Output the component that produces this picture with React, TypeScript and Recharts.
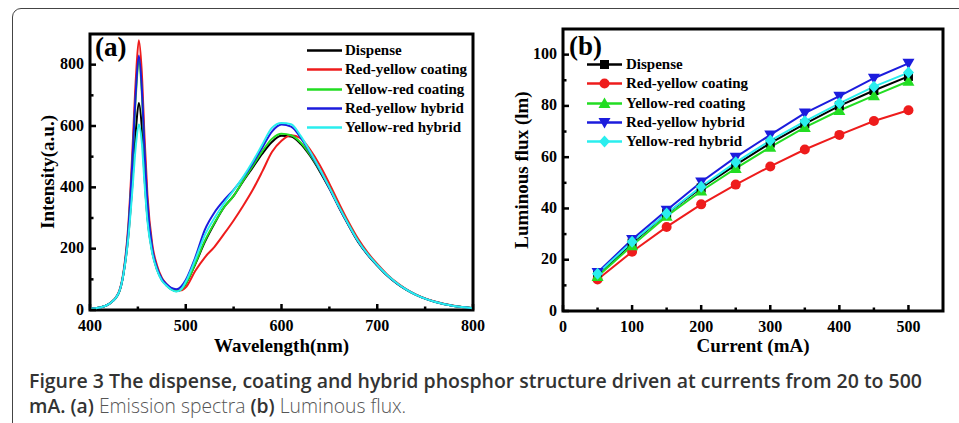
import React from 'react';
import { LineChart, Line, XAxis, YAxis, Legend, ReferenceArea } from 'recharts';

// (a) emission spectra
const wavelength = [400, 410, 420, 430, 435, 440, 444, 448, 451, 454, 457, 460, 465, 470, 475, 480, 485, 490, 495,
  500, 510, 520, 530, 540, 550, 560, 570, 580, 590, 600, 610, 620, 630, 640, 650, 660, 670, 680, 690,
  700, 710, 720, 730, 740, 750, 760, 780, 800];
const dispenseSpec = [4, 8, 20, 55, 118, 240, 400, 590, 675, 600, 430, 300, 190, 132, 98, 80, 68, 62, 66,
  85, 150, 222, 282, 335, 372, 420, 465, 510, 548, 568, 566, 542, 502, 452, 396, 334, 276, 222, 180,
  145, 113, 87, 66, 50, 37, 27, 13, 6];
const ryCoatSpec = [4, 8, 20, 58, 125, 275, 500, 760, 880, 780, 560, 375, 215, 145, 105, 84, 70, 64, 64,
  74, 128, 172, 206, 248, 292, 340, 392, 452, 515, 552, 570, 560, 522, 472, 412, 348, 287, 232, 187,
  150, 117, 90, 68, 51, 38, 28, 14, 6];
const yrCoatSpec = [4, 8, 20, 55, 120, 255, 460, 705, 815, 715, 505, 340, 198, 135, 100, 80, 67, 61, 66,
  86, 152, 226, 284, 335, 372, 422, 470, 518, 558, 575, 570, 546, 506, 456, 400, 338, 280, 225, 182,
  146, 114, 88, 67, 50, 37, 27, 13, 6];
const ryHybSpec = [4, 8, 20, 56, 120, 260, 470, 720, 830, 730, 520, 350, 202, 138, 102, 84, 72, 68, 76,
  98, 172, 262, 318, 358, 392, 432, 478, 530, 582, 605, 598, 562, 512, 457, 398, 336, 278, 224, 181,
  146, 114, 88, 67, 50, 37, 27, 13, 6];
const yrHybSpec = [4, 8, 20, 56, 118, 235, 380, 540, 605, 550, 410, 290, 185, 130, 96, 79, 66, 60, 67,
  92, 165, 245, 300, 348, 390, 434, 484, 540, 594, 610, 606, 568, 516, 460, 400, 337, 279, 225, 182,
  147, 115, 89, 67, 50, 37, 27, 13, 6];

// (b) luminous flux
const current = [50, 100, 150, 200, 250, 300, 350, 400, 450, 500];
const dispenseFlux = [14, 26.5, 38, 48, 57, 65.5, 73, 80, 86, 91.5];
const ryCoatFlux = [12.3, 23.1, 32.8, 41.6, 49.3, 56.4, 63, 68.7, 74.1, 78.3];
const yrCoatFlux = [13.5, 25.5, 37, 46.8, 55.6, 63.9, 71.6, 78.2, 84, 89.6];
const ryHybFlux = [15, 27.9, 39.3, 50.3, 60, 68.7, 77.2, 83.8, 90.8, 96.6];
const yrHybFlux = [14.5, 27, 38, 48.5, 58, 66.5, 74, 81, 87.5, 93];

const names = ['Dispense', 'Red-yellow coating', 'Yellow-red coating', 'Red-yellow hybrid', 'Yellow-red hybrid'];
const keys = ['dispense', 'ryCoat', 'yrCoat', 'ryHyb', 'yrHyb'];
const colors = ['#000000', '#ee1c1c', '#22dd22', '#1c1cdd', '#2aeeee'];
const shapes: Record<string, string> = { dispense: 'square', ryCoat: 'circle', yrCoat: 'up', ryHyb: 'down', yrHyb: 'diamond' };

const specData = wavelength.map((wl, i) => ({
  wl, dispense: dispenseSpec[i], ryCoat: ryCoatSpec[i], yrCoat: yrCoatSpec[i], ryHyb: ryHybSpec[i], yrHyb: yrHybSpec[i],
}));
const fluxData = current.map((c, i) => ({
  c, dispense: dispenseFlux[i], ryCoat: ryCoatFlux[i], yrCoat: yrCoatFlux[i], ryHyb: ryHybFlux[i], yrHyb: yrHybFlux[i],
}));

const SERIF = '"Liberation Serif", "Times New Roman", serif';
const SANS = '"Open Sans", sans-serif';

function Marker({ shape, cx, cy, color }: { shape: string; cx: number; cy: number; color: string }) {
  if (shape === 'square') return <rect x={cx - 4.5} y={cy - 4.5} width={9} height={9} fill={color} />;
  if (shape === 'circle') return <circle cx={cx} cy={cy} r={5} fill={color} />;
  if (shape === 'up') return <polygon points={`${cx},${cy - 6} ${cx + 6},${cy + 4.5} ${cx - 6},${cy + 4.5}`} fill={color} />;
  if (shape === 'down') return <polygon points={`${cx},${cy + 6} ${cx + 6},${cy - 4.5} ${cx - 6},${cy - 4.5}`} fill={color} />;
  return <polygon points={`${cx},${cy - 6} ${cx + 5.5},${cy} ${cx},${cy + 6} ${cx - 5.5},${cy}`} fill={color} />;
}

// inward ticks, labels only on the majors
const xTick = (majors: number[]) => (props: any) => {
  const { x, y, payload } = props;
  const major = majors.includes(payload.value);
  return (
    <g>
      <line x1={x} y1={y} x2={x} y2={y - (major ? 6 : 3.5)} stroke="#000" strokeWidth={2.5} />
      {major && (
        <text x={x} y={y + 15} textAnchor="middle" dominantBaseline="central" fontFamily={SERIF} fontWeight="bold" fontSize={16} fill="#000">
          {payload.value}
        </text>
      )}
    </g>
  );
};
const yTick = (majors: number[]) => (props: any) => {
  const { x, y, payload } = props;
  const major = majors.includes(payload.value);
  return (
    <g>
      <line x1={x} y1={y} x2={x + (major ? 6 : 3.5)} y2={y} stroke="#000" strokeWidth={2.5} />
      {major && (
        <text x={x - 6} y={y - 1} textAnchor="end" dominantBaseline="central" fontFamily={SERIF} fontWeight="bold" fontSize={16} fill="#000">
          {payload.value}
        </text>
      )}
    </g>
  );
};

// keep the legend in series order (recharts sorts by name otherwise)
const legendContent = (withMarkers: boolean, gap: number) => (props: any) => {
  const items = [...(props.payload || [])].sort((a: any, b: any) => names.indexOf(a.value) - names.indexOf(b.value));
  return (
    <div>
      {items.map((entry: any) => (
        <div key={entry.value} style={{ display: 'flex', alignItems: 'center', height: 19.3 }}>
          <svg width={35} height={19} style={{ display: 'block' }}>
            <line x1={0} y1={9.5} x2={35} y2={9.5} stroke={entry.color} strokeWidth={2.5} />
            {withMarkers && <Marker shape={shapes[entry.dataKey]} cx={17.5} cy={9.5} color={entry.color} />}
          </svg>
          <span style={{ marginLeft: gap, fontFamily: SERIF, fontWeight: 'bold', fontSize: 15, color: '#000', whiteSpace: 'nowrap' }}>
            {entry.value}
          </span>
        </div>
      ))}
    </div>
  );
};

const axisLabel = { fill: '#000', fontSize: 19, fontWeight: 'bold', fontFamily: SERIF };

export default function App() {
  return (
    <div style={{ position: 'absolute', left: 0, top: 0, width: 959, height: 423, overflow: 'hidden', background: '#fff' }}>
      <div style={{ position: 'absolute', left: 12, top: 8, width: 1000, height: 500, border: '1.5px solid #444', borderRadius: 9 }} />

      <div style={{ position: 'absolute', left: 0, top: 0 }}>
        <LineChart width={500} height={360} data={specData} margin={{ top: 34, right: 27, bottom: 0, left: 0 }}>
          <XAxis dataKey="wl" type="number" domain={[400, 800]} ticks={[400, 450, 500, 550, 600, 650, 700, 750, 800]}
            interval={0} height={50} axisLine={false} tickLine={false} tickSize={0} tickMargin={0}
            tick={xTick([400, 500, 600, 700, 800])}
            label={{ value: 'Wavelength(nm)', position: 'insideBottom', offset: 8, ...axisLabel }} />
          <YAxis type="number" domain={[0, 900]} ticks={[0, 100, 200, 300, 400, 500, 600, 700, 800]}
            interval={0} width={90} axisLine={false} tickLine={false} tickSize={0} tickMargin={0}
            tick={yTick([0, 200, 400, 600, 800])}
            label={{ value: 'Intensity(a.u.)', angle: -90, position: 'insideLeft', offset: 47, style: { textAnchor: 'middle' }, ...axisLabel }} />
          <ReferenceArea x1={400} x2={800} y1={0} y2={900} fill="none" fillOpacity={0} stroke="#000" strokeWidth={3} />
          {keys.map((k, i) => (
            <Line key={k} type="monotone" dataKey={k} name={names[i]} stroke={colors[i]} strokeWidth={2}
              dot={false} isAnimationActive={false} />
          ))}
          <Legend layout="vertical" align="center" verticalAlign="middle"
            wrapperStyle={{ left: 307, top: 41, width: 170 }} content={legendContent(false, 3)} />
        </LineChart>
      </div>

      <div style={{ position: 'absolute', left: 480, top: 0 }}>
        <LineChart width={479} height={360} data={fluxData} margin={{ top: 29, right: 16, bottom: 0, left: 0 }}>
          <XAxis dataKey="c" type="number" domain={[0, 550]} ticks={[0, 50, 100, 150, 200, 250, 300, 350, 400, 450, 500]}
            interval={0} height={49} axisLine={false} tickLine={false} tickSize={0} tickMargin={0}
            tick={xTick([0, 100, 200, 300, 400, 500])}
            label={{ value: 'Current (mA)', position: 'insideBottom', offset: 8, ...axisLabel }} />
          <YAxis type="number" domain={[0, 110]} ticks={[0, 10, 20, 30, 40, 50, 60, 70, 80, 90, 100]}
            interval={0} width={83} axisLine={false} tickLine={false} tickSize={0} tickMargin={0}
            tick={yTick([0, 20, 40, 60, 80, 100])}
            label={{ value: 'Luminous flux (lm)', angle: -90, position: 'insideLeft', offset: 41, style: { textAnchor: 'middle' }, ...axisLabel }} />
          <ReferenceArea x1={0} x2={550} y1={0} y2={110} fill="none" fillOpacity={0} stroke="#000" strokeWidth={3} />
          {keys.map((k, i) => (
            <Line key={k} type="linear" dataKey={k} name={names[i]} stroke={colors[i]} strokeWidth={2}
              isAnimationActive={false}
              dot={(p: any) => <Marker key={`${k}-${p.index}`} shape={shapes[k]} cx={p.cx} cy={p.cy} color={colors[i]} />} />
          ))}
          <Legend layout="vertical" align="center" verticalAlign="middle"
            wrapperStyle={{ left: 107, top: 55, width: 200 }} content={legendContent(true, 4)} />
        </LineChart>
      </div>

      <svg width={959} height={423} style={{ position: 'absolute', left: 0, top: 0, pointerEvents: 'none' }}>
        <text x={95} y={56} fontFamily={SERIF} fontWeight="bold" fontSize={27} fill="#000">(a)</text>
        <text x={569} y={55} fontFamily={SERIF} fontWeight="bold" fontSize={27} fill="#000">(b)</text>
        <text x={29} y={388} fontFamily={SANS} fontWeight={600} fontSize={19.5} fill="#333"
          textLength={893} lengthAdjust="spacingAndGlyphs">
          Figure 3 The dispense, coating and hybrid phosphor structure driven at currents from 20 to 500
        </text>
        <g transform="translate(29,413) scale(0.99,1)">
          <text x={0} y={0} fontFamily={SANS} fontSize={19.5} fill="#555">
            <tspan fontWeight={600} fill="#333">mA. (a)</tspan>
            <tspan fontWeight={300}> Emission spectra </tspan>
            <tspan fontWeight={600} fill="#333">(b)</tspan>
            <tspan fontWeight={300}> Luminous flux.</tspan>
          </text>
        </g>
      </svg>
    </div>
  );
}
